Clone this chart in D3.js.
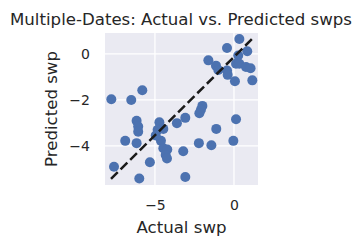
<!DOCTYPE html>
<html lang="en">
<head>
    <meta charset="UTF-8">
    <title>Actual vs. Predicted swps</title>
    <script src="https://d3js.org/d3.v7.min.js"></script>
    <style>
        body { margin: 0; background: #fff; }
        text { font-family: "DejaVu Sans", sans-serif; fill: #262626; }
    </style>
</head>
<body>
    <div id="chart"></div>

    <script>
        // Points
        const actual = [0.34, -0.44, 0.84, 0.27, -1.62, -1.14, 0.13, 0.34, 0.76, 1.05,
            -0.99, -0.44, -0.40, 0.06, 1.16, -5.80, -7.76, -6.50, -2.00, -2.09,
            -2.19, 0.13, -3.08, -3.61, -6.16, -6.06, -6.06, -4.72, -4.47, -4.83,
            -1.12, -6.88, -6.16, -4.62, -2.22, -1.43, -0.04, -4.47, -4.22, -3.21,
            -4.32, -4.24, -5.32, -7.59, -5.99, -3.08, -4.95];
        const predicted = [0.65, 0.26, 0.12, -0.07, -0.28, -0.51, -0.43, -0.43, -0.57, -0.62,
            -0.70, -0.72, -0.91, -1.19, -1.15, -1.58, -1.97, -2.00, -2.26, -2.43,
            -2.58, -2.84, -2.78, -3.01, -2.91, -3.16, -3.38, -2.97, -3.26, -3.30,
            -3.26, -3.78, -3.88, -3.78, -3.88, -3.97, -3.78, -4.10, -4.16, -4.23,
            -4.39, -4.55, -4.71, -4.91, -5.42, -5.35, -3.55];
        // dashed reference line endpoints
        const lineX = [-7.78, 1.13];
        const lineY = [-5.43, 0.64];
        const xTicks = [-5, 0];
        const yTicks = [-4, -2, 0];

        const width = 362, height = 248;
        const margin = { left: 105, right: 104, top: 33, bottom: 63 };

        const svg = d3.select("#chart").append("svg")
            .attr("width", width)
            .attr("height", height);

        const x = d3.scaleLinear().domain([-8.16, 1.52])
            .range([margin.left, width - margin.right]);
        const y = d3.scaleLinear().domain([-5.70, 0.91])
            .range([height - margin.bottom, margin.top]);

        // plot background
        svg.append("rect")
            .attr("x", margin.left)
            .attr("y", margin.top)
            .attr("width", width - margin.left - margin.right)
            .attr("height", height - margin.top - margin.bottom)
            .attr("fill", "#eaeaf2");

        // grid
        svg.selectAll(".gx").data(xTicks).join("line")
            .attr("x1", d => x(d)).attr("x2", d => x(d))
            .attr("y1", margin.top).attr("y2", height - margin.bottom)
            .attr("stroke", "#fff").attr("stroke-width", 1.3);
        svg.selectAll(".gy").data(yTicks).join("line")
            .attr("y1", d => y(d)).attr("y2", d => y(d))
            .attr("x1", margin.left).attr("x2", width - margin.right)
            .attr("stroke", "#fff").attr("stroke-width", 1.3);

        // points
        svg.append("g").selectAll("circle")
            .data(d3.zip(actual, predicted))
            .join("circle")
            .attr("cx", d => x(d[0]))
            .attr("cy", d => y(d[1]))
            .attr("r", 5)
            .attr("fill", "#4c72b0");

        // dashed line on top
        svg.append("line")
            .attr("x1", x(lineX[0])).attr("y1", y(lineY[0]))
            .attr("x2", x(lineX[1])).attr("y2", y(lineY[1]))
            .attr("stroke", "#1a1a1a")
            .attr("stroke-width", 2.5)
            .attr("stroke-dasharray", "9.5,4");

        // axes (no lines, seaborn darkgrid)
        const xAxis = svg.append("g")
            .attr("transform", `translate(0,${height - margin.bottom})`)
            .call(d3.axisBottom(x).tickValues(xTicks).tickSize(0).tickPadding(15)
                .tickFormat(d => d3.format("d")(d).replace("-", "\u2212")));
        const yAxis = svg.append("g")
            .attr("transform", `translate(${margin.left},0)`)
            .call(d3.axisLeft(y).tickValues(yTicks).tickSize(0).tickPadding(15)
                .tickFormat(d => d3.format("d")(d).replace("-", "\u2212")));
        [xAxis, yAxis].forEach(a => {
            a.select(".domain").remove();
            a.selectAll("text")
                .style("font-family", "DejaVu Sans, sans-serif")
                .style("font-size", "14px")
                .attr("fill", "#262626");
        });

        // labels
        svg.append("text")
            .attr("x", width / 2).attr("y", 25)
            .attr("text-anchor", "middle")
            .style("font-size", "16.6px")
            .text("Multiple-Dates: Actual vs. Predicted swps");
        svg.append("text")
            .attr("x", (margin.left + width - margin.right) / 2).attr("y", 233)
            .attr("text-anchor", "middle")
            .style("font-size", "16.6px")
            .text("Actual swp");
        svg.append("text")
            .attr("transform", `translate(57,${(margin.top + height - margin.bottom) / 2}) rotate(-90)`)
            .attr("text-anchor", "middle")
            .style("font-size", "16.6px")
            .text("Predicted swp");
    </script>
</body>
</html>
